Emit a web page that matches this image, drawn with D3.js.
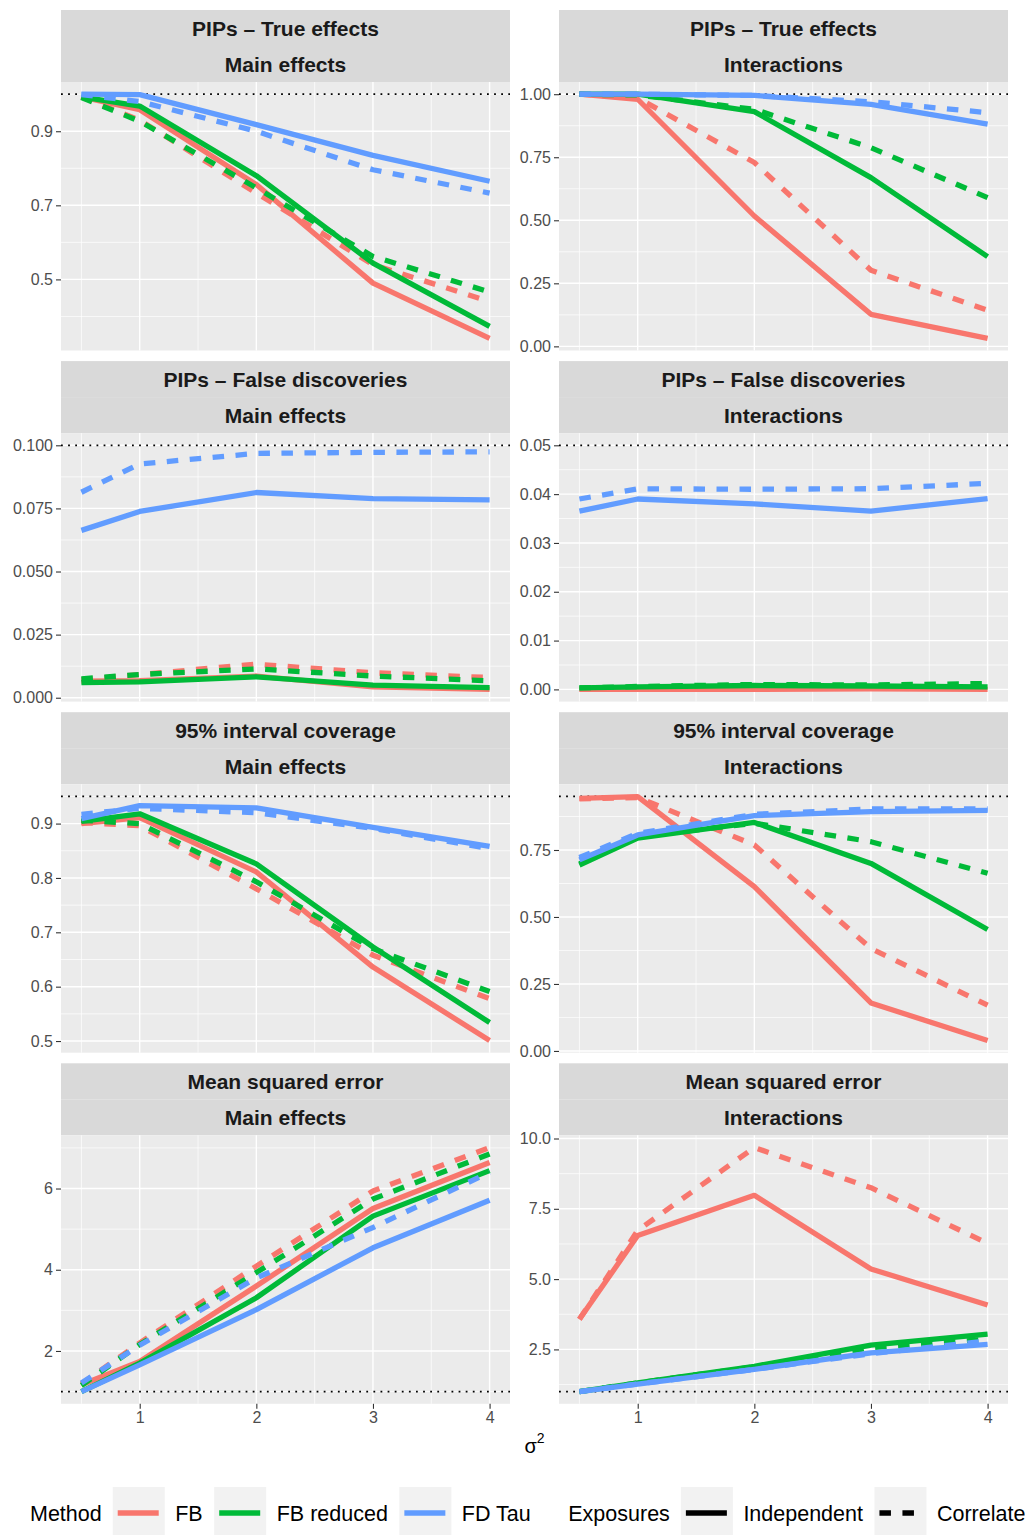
<!DOCTYPE html>
<html><head><meta charset="utf-8">
<script src="https://cdn.jsdelivr.net/npm/d3@7"></script>
<style>body{margin:0;background:#fff}svg{display:block}text{font-family:"Liberation Sans",Arial,sans-serif}</style>
</head><body><svg id="chart" width="1025" height="1535"></svg>
<script>
// ---------- data ----------
const xValues = [0.5, 1, 2, 3, 4];
const methods = ["FB", "FB reduced", "FD Tau"];
const exposures = ["Independent", "Correlated"];
const methodColors = ["#F8766D", "#00BA38", "#619CFF"];
const rowTitles = ["PIPs \u2013 True effects", "PIPs \u2013 False discoveries", "95% interval coverage", "Mean squared error"];
const colTitles = ["Main effects", "Interactions"];
// series order: FB ind, FB corr, FB reduced ind, FB reduced corr, FD Tau ind, FD Tau corr
const pipsTrueMain = [
  [0.993, 0.958, 0.756, 0.490, 0.341],
  [0.993, 0.930, 0.733, 0.540, 0.440],
  [0.993, 0.968, 0.780, 0.544, 0.373],
  [0.991, 0.927, 0.747, 0.562, 0.466],
  [1.000, 0.999, 0.918, 0.835, 0.765],
  [0.999, 0.980, 0.900, 0.796, 0.733]
];
const pipsTrueInter = [
  [1.000, 0.980, 0.517, 0.127, 0.032],
  [1.000, 0.985, 0.729, 0.302, 0.143],
  [1.000, 1.000, 0.931, 0.669, 0.356],
  [1.000, 0.997, 0.940, 0.788, 0.590],
  [1.000, 1.000, 0.995, 0.960, 0.881],
  [1.000, 1.000, 0.995, 0.970, 0.927]
];
const pipsFalseMain = [
  [0.0066, 0.0068, 0.0086, 0.0043, 0.0033],
  [0.0072, 0.0092, 0.0133, 0.0099, 0.0080],
  [0.0060, 0.0063, 0.0083, 0.0050, 0.0040],
  [0.0075, 0.0092, 0.0114, 0.0086, 0.0067],
  [0.0663, 0.0738, 0.0813, 0.0789, 0.0784],
  [0.0814, 0.0926, 0.0968, 0.0972, 0.0974]
];
const pipsFalseInter = [
  [0.0000, 0.0000, 0.0000, 0.0001, 0.0000],
  [0.0001, 0.0003, 0.0005, 0.0005, 0.0004],
  [0.0003, 0.0005, 0.0008, 0.0007, 0.0005],
  [0.0003, 0.0006, 0.0010, 0.0009, 0.0012],
  [0.0365, 0.0390, 0.0380, 0.0365, 0.0391],
  [0.0390, 0.0411, 0.0410, 0.0411, 0.0422]
];
const coverageMain = [
  [0.900, 0.911, 0.811, 0.636, 0.501],
  [0.902, 0.896, 0.780, 0.658, 0.578],
  [0.904, 0.918, 0.826, 0.673, 0.534],
  [0.906, 0.900, 0.793, 0.670, 0.591],
  [0.909, 0.933, 0.929, 0.893, 0.858],
  [0.917, 0.928, 0.920, 0.891, 0.854]
];
const coverageInter = [
  [0.943, 0.949, 0.613, 0.179, 0.039],
  [0.941, 0.946, 0.769, 0.382, 0.171],
  [0.694, 0.794, 0.853, 0.700, 0.453],
  [0.698, 0.800, 0.850, 0.781, 0.663],
  [0.713, 0.806, 0.878, 0.893, 0.898],
  [0.722, 0.812, 0.883, 0.903, 0.903]
];
const mseMain = [
  [1.17, 1.74, 3.60, 5.51, 6.64],
  [1.19, 2.20, 4.09, 5.94, 7.01],
  [1.00, 1.70, 3.31, 5.32, 6.44],
  [1.15, 2.16, 3.93, 5.74, 6.85],
  [1.00, 1.66, 3.02, 4.54, 5.71],
  [1.21, 2.14, 3.80, 5.04, 6.40]
];
const mseInter = [
  [3.57, 6.55, 7.98, 5.36, 4.08],
  [3.57, 6.73, 9.68, 8.25, 6.27],
  [1.00, 1.31, 1.90, 2.65, 3.04],
  [1.00, 1.31, 1.88, 2.56, 2.86],
  [1.00, 1.27, 1.79, 2.38, 2.68],
  [1.00, 1.27, 1.79, 2.35, 2.80]
];
const referenceLines = [1, 1, 0.1, 0.05, 0.95, 0.95, 1, 1];
const yTicks = [
  [0.5, 0.7, 0.9], [0, 0.25, 0.5, 0.75, 1],
  [0, 0.025, 0.05, 0.075, 0.1], [0, 0.01, 0.02, 0.03, 0.04, 0.05],
  [0.5, 0.6, 0.7, 0.8, 0.9], [0, 0.25, 0.5, 0.75],
  [2, 4, 6], [2.5, 5, 7.5, 10]
];
const yTickLabels = [
  ["0.5", "0.7", "0.9"], ["0.00", "0.25", "0.50", "0.75", "1.00"],
  ["0.000", "0.025", "0.050", "0.075", "0.100"], ["0.00", "0.01", "0.02", "0.03", "0.04", "0.05"],
  ["0.5", "0.6", "0.7", "0.8", "0.9"], ["0.00", "0.25", "0.50", "0.75"],
  ["2", "4", "6"], ["2.5", "5.0", "7.5", "10.0"]
];
const xTicks = [1, 2, 3, 4];
const xTickLabels = ["1", "2", "3", "4"];

// ---------- layout ----------
const panelData = [pipsTrueMain, pipsTrueInter, pipsFalseMain, pipsFalseInter, coverageMain, coverageInter, mseMain, mseInter];
const svg = d3.select("#chart");
const colX = [[61, 510], [559, 1008]];
const stripH = 36, plotH = 268.5, rowPitch = 351.1, top0 = 10;
const xDomain = [d3.min(xValues), d3.max(xValues)];
const xPad = (xDomain[1] - xDomain[0]) * 0.05;
const lw = 5.3, dash = "11.5,11.5";

function minorOf(ticks, dom) {
  const step = ticks[1] - ticks[0];
  const out = [];
  for (let v = ticks[0] - step / 2; v <= dom[1] + 1e-9; v += step) {
    if (v >= dom[0] - 1e-9) out.push(v);
  }
  while (out.length && out[0] - step >= dom[0]) out.unshift(out[0] - step);
  return out.filter(v => v >= dom[0] && v <= dom[1]);
}

panelData.forEach((series, p) => {
  const row = Math.floor(p / 2), col = p % 2;
  const [x0, x1] = colX[col];
  const sTop = top0 + row * rowPitch;
  const pTop = sTop + 2 * stripH;
  const pBot = pTop + plotH;
  const g = svg.append("g");

  // strips
  [rowTitles[row], colTitles[col]].forEach((t, k) => {
    g.append("rect").attr("x", x0).attr("y", sTop + k * stripH).attr("width", x1 - x0).attr("height", stripH).attr("fill", "#D9D9D9");
    g.append("text").attr("x", (x0 + x1) / 2).attr("y", sTop + k * stripH + stripH / 2).attr("dy", "0.36em")
      .attr("text-anchor", "middle").attr("font-size", 21).attr("font-weight", "bold").attr("fill", "#1A1A1A").text(t);
  });

  // scales
  const all = series.flat().concat([referenceLines[p]]);
  const lo = d3.min(all), hi = d3.max(all), pad = (hi - lo) * 0.05;
  const yDom = [lo - pad, hi + pad];
  const x = d3.scaleLinear().domain([xDomain[0] - xPad, xDomain[1] + xPad]).range([x0, x1]);
  const y = d3.scaleLinear().domain(yDom).range([pBot, pTop]);

  g.append("rect").attr("x", x0).attr("y", pTop).attr("width", x1 - x0).attr("height", plotH).attr("fill", "#EBEBEB");

  // grid
  const yMinor = minorOf(yTicks[p], yDom);
  const xMinor = minorOf(xTicks, x.domain());
  g.selectAll(".ymin").data(yMinor).join("line").attr("x1", x0).attr("x2", x1)
    .attr("y1", d => y(d)).attr("y2", d => y(d)).attr("stroke", "#fff").attr("stroke-width", 0.7);
  g.selectAll(".xmin").data(xMinor).join("line").attr("y1", pTop).attr("y2", pBot)
    .attr("x1", d => x(d)).attr("x2", d => x(d)).attr("stroke", "#fff").attr("stroke-width", 0.7);
  g.selectAll(".ymaj").data(yTicks[p]).join("line").attr("x1", x0).attr("x2", x1)
    .attr("y1", d => y(d)).attr("y2", d => y(d)).attr("stroke", "#fff").attr("stroke-width", 1.4);
  g.selectAll(".xmaj").data(xTicks).join("line").attr("y1", pTop).attr("y2", pBot)
    .attr("x1", d => x(d)).attr("x2", d => x(d)).attr("stroke", "#fff").attr("stroke-width", 1.4);

  // reference line
  g.append("line").attr("x1", x0).attr("x2", x1).attr("y1", y(referenceLines[p])).attr("y2", y(referenceLines[p]))
    .attr("stroke", "#000").attr("stroke-width", 1.8).attr("stroke-dasharray", "1.8,5.3");

  // lines
  const line = d3.line().x((d, i) => x(xValues[i])).y(d => y(d));
  series.forEach((vals, s) => {
    const m = Math.floor(s / 2), e = s % 2;
    g.append("path").attr("d", line(vals)).attr("fill", "none")
      .attr("stroke", methodColors[m]).attr("stroke-width", lw)
      .attr("stroke-linejoin", "round").attr("stroke-linecap", "butt")
      .attr("stroke-dasharray", e === 1 ? dash : null);
  });

  // y axis
  const yAxis = d3.axisLeft(y).tickValues(yTicks[p]).tickFormat((d, i) => yTickLabels[p][i]).tickSize(5).tickPadding(3);
  const ya = g.append("g").attr("transform", `translate(${x0},0)`).call(yAxis);
  ya.select(".domain").remove();
  ya.selectAll("line").attr("stroke", "#333333").attr("stroke-width", 1.1);
  ya.selectAll("text").attr("fill", "#4D4D4D").attr("font-size", 16).attr("font-family", "Liberation Sans, Arial, sans-serif");

  if (row === 3) {
    const xAxis = d3.axisBottom(x).tickValues(xTicks).tickFormat((d, i) => xTickLabels[i]).tickSize(5).tickPadding(3);
    const xa = g.append("g").attr("transform", `translate(0,${pBot})`).call(xAxis);
    xa.select(".domain").remove();
    xa.selectAll("line").attr("stroke", "#333333").attr("stroke-width", 1.1);
    xa.selectAll("text").attr("fill", "#4D4D4D").attr("font-size", 16).attr("font-family", "Liberation Sans, Arial, sans-serif");
  }
});

// axis title
const xt = svg.append("text").attr("x", 534.5).attr("y", 1453).attr("text-anchor", "middle").attr("fill", "#000");
xt.append("tspan").attr("font-size", 20).text("\u03C3");
xt.append("tspan").attr("font-size", 14).attr("dy", -10).text("2");

// legend
const leg = svg.append("g");
const ly = 1513, fs = 21.5, keyW = 52;
let cx = 30;
function legText(t) {
  const el = leg.append("text").attr("x", cx).attr("y", ly).attr("dy", "0.36em").attr("font-size", fs).attr("fill", "#000").text(t);
  cx += el.node().getComputedTextLength();
}
function legKey(color, dashed) {
  leg.append("rect").attr("x", cx).attr("y", ly - 26).attr("width", keyW).attr("height", 52).attr("fill", "#F2F2F2");
  leg.append("line").attr("x1", cx + 5).attr("x2", cx + keyW - 6).attr("y1", ly).attr("y2", ly)
    .attr("stroke", color).attr("stroke-width", 5.5).attr("stroke-dasharray", dashed ? dash : null);
  cx += keyW;
}
legText("Method"); cx += 11;
methods.forEach((m, i) => {
  legKey(methodColors[i], false); cx += 10.5; legText(m); cx += 11.5;
});
cx += 26;
legText("Exposures"); cx += 11;
exposures.forEach((e, i) => {
  legKey("#000", i === 1); cx += 10.5; legText(e); cx += 11.5;
});
</script></body></html>
